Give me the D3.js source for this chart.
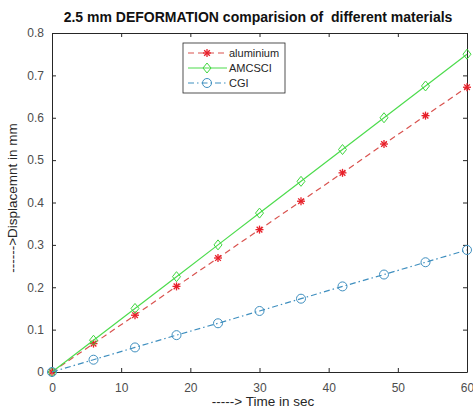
<!DOCTYPE html>
<html>
<head>
<script src="https://d3js.org/d3.v7.min.js"></script>
<style>
  body { margin: 0; background: #fff; }
  text { font-family: "Liberation Sans", Arial, sans-serif; }
</style>
</head>
<body>
<script>
  var width = 473, height = 412;
  var margin = {top: 33, right: 6, bottom: 40, left: 52};

  var time = [0, 6, 12, 18, 24, 30, 36, 42, 48, 54, 60];
  var aluminium = [0, 0.067, 0.134, 0.202, 0.269, 0.336, 0.403, 0.470, 0.538, 0.605, 0.672];
  var amcsci = [0, 0.075, 0.150, 0.225, 0.300, 0.375, 0.450, 0.525, 0.600, 0.675, 0.750];
  var cgi = [0, 0.029, 0.058, 0.087, 0.115, 0.144, 0.173, 0.202, 0.230, 0.259, 0.288];
  var xTicks = [0, 10, 20, 30, 40, 50, 60];
  var yTicks = [0, 0.1, 0.2, 0.3, 0.4, 0.5, 0.6, 0.7, 0.8];

  var series = [
    {name: "aluminium", values: aluminium, line: "#d9534f", mark: "#e8202a", dash: "6,4", marker: "star"},
    {name: "AMCSCI", values: amcsci, line: "#4ddc4d", mark: "#3fd63f", dash: null, marker: "diamond"},
    {name: "CGI", values: cgi, line: "#3f8fbf", mark: "#3f8fbf", dash: "6,3,1.5,3", marker: "circle"}
  ];

  var svg = d3.select("body").append("svg")
    .attr("width", width).attr("height", height);

  var x = d3.scaleLinear().domain([0, 60]).range([margin.left, width - margin.right]);
  var y = d3.scaleLinear().domain([0, 0.8]).range([height - margin.bottom, margin.top]);

  var axisColor = "#262626";
  var labelColor = "#4d4d4d";

  // axes, MATLAB box style with inward ticks on every side
  var gx = svg.append("g").attr("transform", "translate(0," + y(0) + ")")
    .call(d3.axisBottom(x).tickValues(xTicks).tickSizeInner(-4).tickSizeOuter(0).tickPadding(11));
  var gxTop = svg.append("g").attr("transform", "translate(0," + y(0.8) + ")")
    .call(d3.axisTop(x).tickValues(xTicks).tickSizeInner(-4).tickSizeOuter(0).tickFormat(""));
  var gy = svg.append("g").attr("transform", "translate(" + x(0) + ",0)")
    .call(d3.axisLeft(y).tickValues(yTicks).tickSizeInner(-4).tickSizeOuter(0).tickPadding(8)
      .tickFormat(function(d){ return d === 0 ? "0" : d3.format(".1f")(d); }));
  var gyRight = svg.append("g").attr("transform", "translate(" + x(60) + ",0)")
    .call(d3.axisRight(y).tickValues(yTicks).tickSizeInner(-4).tickSizeOuter(0).tickFormat(""));

  [gx, gxTop, gy, gyRight].forEach(function(g){
    g.select(".domain").attr("stroke", axisColor).attr("stroke-width", 1);
    g.selectAll(".tick line").attr("stroke", axisColor);
    g.selectAll(".tick text").attr("fill", labelColor).style("font-size", "12px");
  });

  var line = d3.line()
    .x(function(d, i){ return x(time[i]); })
    .y(function(d){ return y(d); });

  function drawMarker(g, type, color, cx, cy) {
    if (type === "star") {
      var r = 4;
      var p = g.append("g").attr("stroke", color).attr("stroke-width", 1.3);
      [0, 45, 90, 135].forEach(function(a){
        var rad = a * Math.PI / 180;
        p.append("line")
          .attr("x1", cx - r * Math.cos(rad)).attr("y1", cy - r * Math.sin(rad))
          .attr("x2", cx + r * Math.cos(rad)).attr("y2", cy + r * Math.sin(rad));
      });
    } else if (type === "diamond") {
      var s = 5;
      g.append("path")
        .attr("d", "M" + cx + "," + (cy - s) + "L" + (cx + s * 0.8) + "," + cy + "L" + cx + "," + (cy + s) + "L" + (cx - s * 0.8) + "," + cy + "Z")
        .attr("fill", "none").attr("stroke", color).attr("stroke-width", 1);
    } else {
      g.append("circle").attr("cx", cx).attr("cy", cy).attr("r", 4.5)
        .attr("fill", "none").attr("stroke", color).attr("stroke-width", 1);
    }
  }

  var plot = svg.append("g");
  series.forEach(function(s){
    plot.append("path")
      .attr("d", line(s.values))
      .attr("fill", "none")
      .attr("stroke", s.line)
      .attr("stroke-width", 1.2)
      .attr("stroke-dasharray", s.dash);
    s.values.forEach(function(v, i){
      drawMarker(plot, s.marker, s.mark, x(time[i]), y(v));
    });
  });

  // legend
  var lx = 183, ly = 43, lw = 102, lh = 50;
  var legend = svg.append("g");
  legend.append("rect").attr("x", lx).attr("y", ly).attr("width", lw).attr("height", lh)
    .attr("fill", "#fff").attr("stroke", axisColor).attr("stroke-width", 0.8);
  series.forEach(function(s, i){
    var ry = ly + 10 + i * 15;
    legend.append("line").attr("x1", lx + 5).attr("x2", lx + 44).attr("y1", ry).attr("y2", ry)
      .attr("stroke", s.line).attr("stroke-width", 1.2).attr("stroke-dasharray", s.dash);
    drawMarker(legend, s.marker, s.mark, lx + 24, ry);
    legend.append("text").attr("x", lx + 46).attr("y", ry + 4)
      .style("font-size", "11px").attr("fill", axisColor).text(s.name);
  });

  // title and axis labels
  svg.append("text").attr("x", 258).attr("y", 22)
    .attr("text-anchor", "middle").style("font-size", "14px").style("font-weight", "bold")
    .style("white-space", "pre")
    .attr("fill", "#111").text("2.5 mm DEFORMATION comparision of  different materials");

  svg.append("text").attr("x", 263).attr("y", 406)
    .attr("text-anchor", "middle").style("font-size", "13.5px").attr("fill", axisColor)
    .text("-----> Time in sec");

  svg.append("text")
    .attr("transform", "translate(17,198) rotate(-90)")
    .attr("text-anchor", "middle").style("font-size", "13.5px").attr("fill", axisColor)
    .text("------>Displacemnt in mm");
</script>
</body>
</html>
